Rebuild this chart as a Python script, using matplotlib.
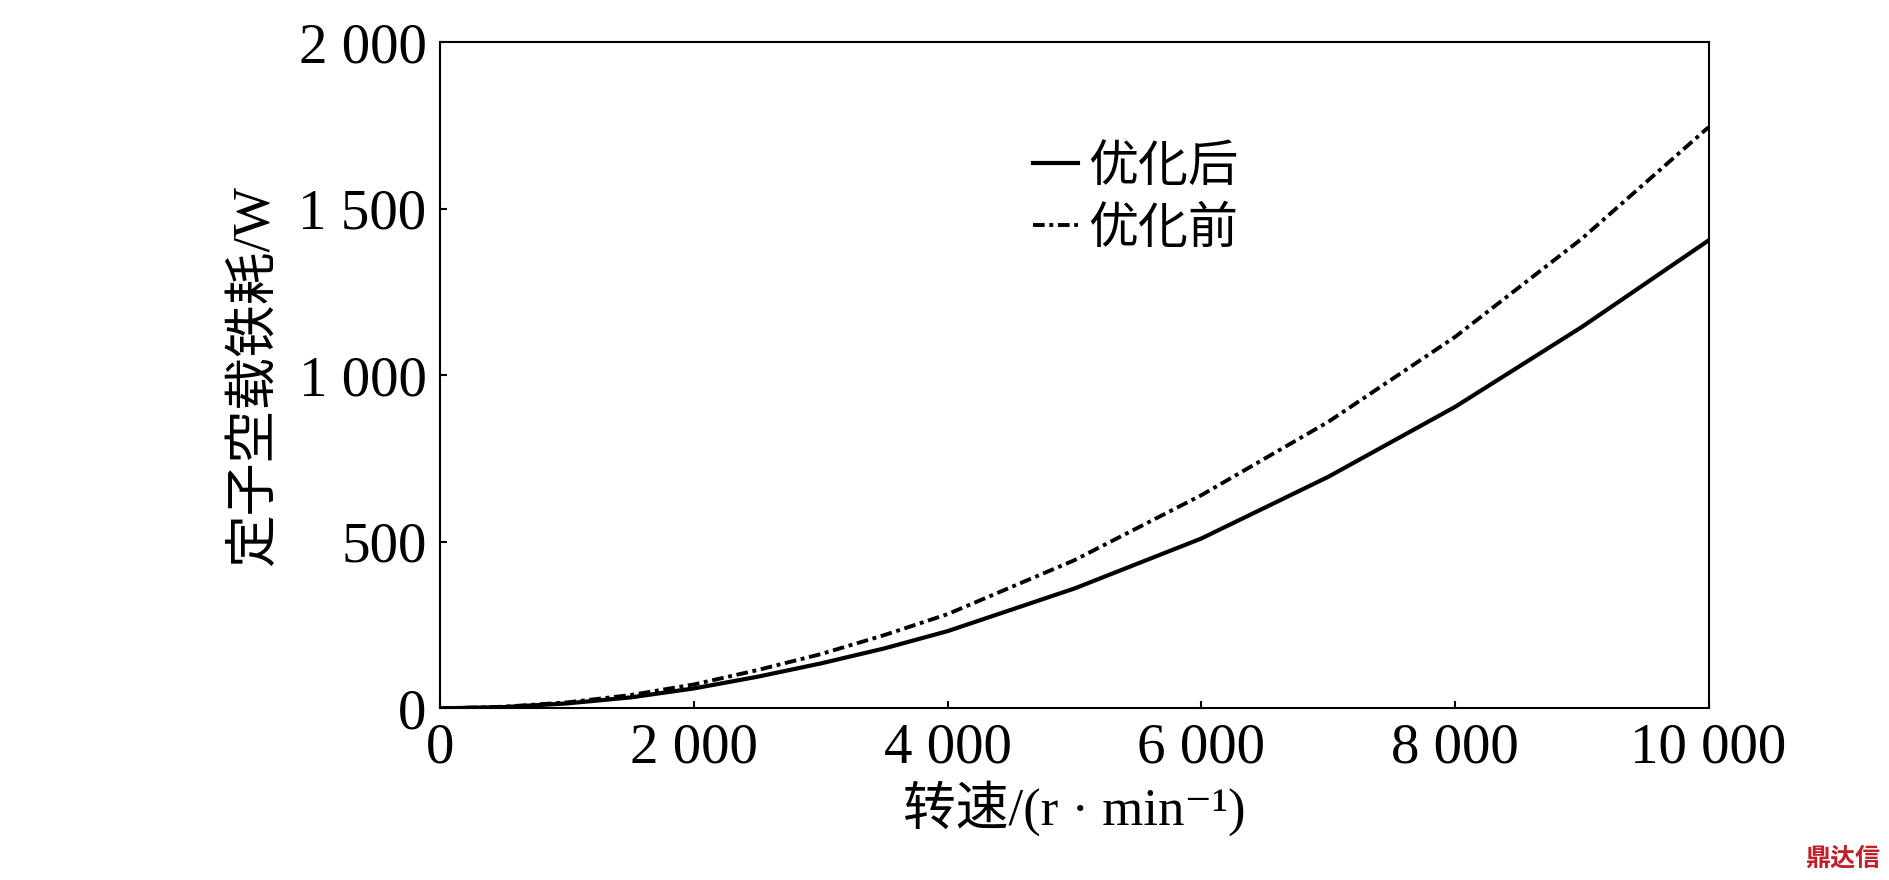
import matplotlib
matplotlib.use("Agg")
import matplotlib.pyplot as plt
from matplotlib import font_manager as fm
from matplotlib.ticker import FuncFormatter

speed = [0, 500, 1000, 1500, 2000, 2500, 3000, 3500, 4000, 5000, 6000, 7000, 8000, 9000, 10000]
after = [0, 4, 15, 33, 60, 95, 135, 180, 232, 360, 510, 695, 905, 1145, 1405]
before = [0, 5, 18, 40, 72, 115, 163, 220, 283, 445, 640, 860, 1115, 1410, 1745]
xticks = [0, 2000, 4000, 6000, 8000, 10000]
yticks = [0, 500, 1000, 1500, 2000]

serif = "Liberation Serif"
names = sorted({f.name for f in fm.fontManager.ttflist if "CJK" in f.name})
cjk = next((n for n in names if "SC" in n), names[0] if names else "DejaVu Sans")
plt.rcParams["font.family"] = [serif, cjk, "DejaVu Serif"]

fig = plt.figure(figsize=(18.9, 8.8), dpi=100)
ax = fig.add_axes([0.233, 0.195, 0.671, 0.757])
ax.plot(speed, after, color="black", lw=3.0, label="优化后")
ax.plot(speed, before, color="black", lw=2.8, ls=(0, (3, 1.2, 1, 1.2)), label="优化前")
ax.set_xlim(0, 10000)
ax.set_ylim(0, 2000)
ax.set_xticks(xticks)
ax.set_yticks(yticks)
fmt = FuncFormatter(lambda v, p: f"{int(v):,}".replace(",", " "))
ax.xaxis.set_major_formatter(fmt)
ax.yaxis.set_major_formatter(fmt)
ax.tick_params(direction="in", length=5, width=1.5, labelsize=41, pad=10)
for s in ax.spines.values():
    s.set_linewidth(1.5)
ax.set_xlabel("转速/(r · min⁻¹)", fontsize=38, labelpad=4)
ax.set_ylabel("定子空载铁耗/W", fontsize=38, labelpad=14)
ax.legend(loc="upper left", bbox_to_anchor=(0.432, 0.92), frameon=False,
          prop={"family": [cjk], "size": 36}, handlelength=0.9, handletextpad=0.2,
          labelspacing=0.2)
fig.text(0.995, 0.01, "鼎达信", ha="right", va="bottom", fontsize=18, color="#c0202a",
         fontfamily=cjk, fontweight="bold")
fig.savefig("out.png", dpi=100)
